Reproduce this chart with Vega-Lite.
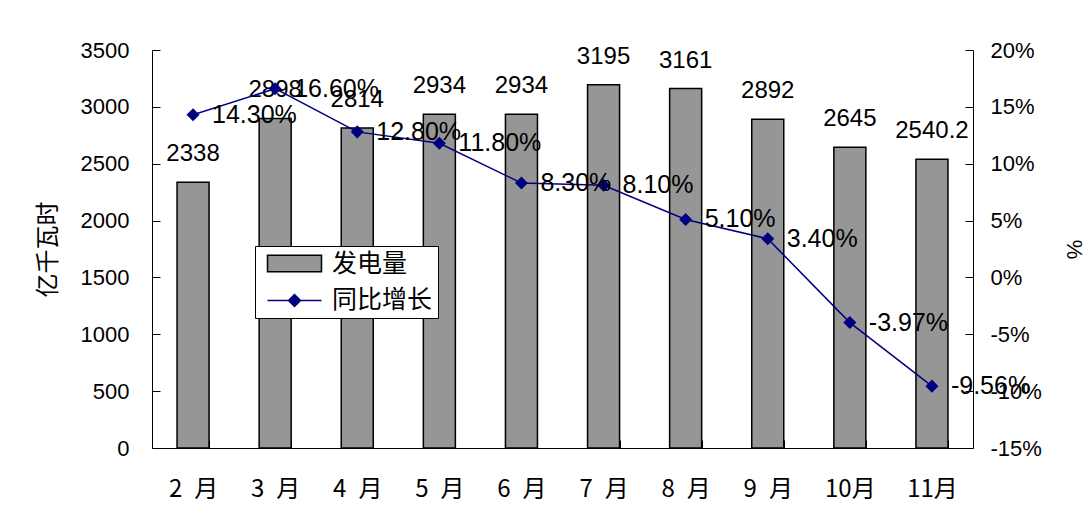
{
  "$schema": "https://vega.github.io/schema/vega-lite/v6.json",
  "width": 821,
  "height": 398,
  "padding": {"left": 36, "top": 39, "right": 2, "bottom": 2},
  "background": "white",
  "config": {"view": {"stroke": null}, "axis": {"grid": false}},
  "data": {
    "values": [
      {"month": "2 月", "power": 2338, "growth": 0.143},
      {"month": "3 月", "power": 2898, "growth": 0.166},
      {"month": "4 月", "power": 2814, "growth": 0.128},
      {"month": "5 月", "power": 2934, "growth": 0.118},
      {"month": "6 月", "power": 2934, "growth": 0.083},
      {"month": "7 月", "power": 3195, "growth": 0.081},
      {"month": "8 月", "power": 3161, "growth": 0.051},
      {"month": "9 月", "power": 2892, "growth": 0.034},
      {"month": "10月", "power": 2645, "growth": -0.0397},
      {"month": "11月", "power": 2540.2, "growth": -0.0956}
    ]
  },
  "transform": [
    {"calculate": "replace(format(datum.growth, '.2%'), '\u2212', '-')", "as": "glabel"}
  ],
  "encoding": {
    "x": {
      "field": "month",
      "type": "nominal",
      "sort": null,
      "scale": {"paddingInner": 0.61, "paddingOuter": 0.305},
      "axis": {
        "title": null,
        "labelAngle": 0,
        "labelExpr": "replace(datum.label, ' ', '\u2002')",
        "labelFont": "Noto Sans CJK SC",
        "labelFontSize": 24,
        "labelColor": "black",
        "labelPadding": 37,
        "tickBand": "extent",
        "tickSize": -8,
        "tickColor": "black",
        "domainColor": "black"
      }
    }
  },
  "layer": [
    {
      "encoding": {
        "y": {
          "field": "power",
          "type": "quantitative",
          "scale": {"domain": [0, 3500]},
          "axis": {
            "orient": "left",
            "values": [0, 500, 1000, 1500, 2000, 2500, 3000, 3500],
            "format": "d",
            "title": "亿千瓦时",
            "titleFont": "Noto Sans CJK SC",
            "titleFontSize": 24,
            "titleFontWeight": "normal",
            "titleColor": "black",
            "titlePadding": 20,
            "labelFont": "Liberation Sans",
            "labelFontSize": 22,
            "labelColor": "black",
            "labelPadding": 31,
            "tickSize": -8,
            "tickColor": "black",
            "domainColor": "black"
          }
        }
      },
      "layer": [
        {
          "mark": {"type": "bar", "stroke": "black", "strokeWidth": 1.5},
          "encoding": {
            "fill": {
              "datum": "发电量",
              "type": "nominal",
              "scale": {"domain": ["发电量", "同比增长"], "range": ["#969696", "transparent"]},
              "legend": {
                "orient": "none",
                "legendX": 103,
                "legendY": 196,
                "title": null,
                "strokeColor": "black",
                "fillColor": "white",
                "padding": 5,
                "labelFont": "Noto Sans CJK SC",
                "labelFontSize": 25,
                "labelColor": "black",
                "symbolSize": 400,
                "symbolOffset": 22,
                "labelOffset": 25,
                "rowPadding": 10,
                "symbolType": "M-2.7,-0.83H2.7V0.83H-2.7Z",
                "symbolStrokeWidth": 1.5
              }
            }
          }
        },
        {
          "mark": {"type": "text", "font": "Liberation Sans", "fontSize": 24, "baseline": "middle", "dy": -28, "color": "black"},
          "encoding": {"text": {"field": "power", "type": "nominal"}}
        }
      ]
    },
    {
      "encoding": {
        "y": {
          "field": "growth",
          "type": "quantitative",
          "scale": {"domain": [-0.15, 0.2]},
          "axis": {
            "orient": "right",
            "values": [-0.15, -0.1, -0.05, 0, 0.05, 0.1, 0.15, 0.2],
            "labelExpr": "replace(format(datum.value, '.0%'), '\u2212', '-')",
            "title": "%",
            "titleFont": "Liberation Sans",
            "titleFontSize": 22,
            "titleFontWeight": "normal",
            "titleColor": "black",
            "titlePadding": 20,
            "labelFont": "Liberation Sans",
            "labelFontSize": 22,
            "labelColor": "black",
            "labelPadding": 25,
            "tickSize": -8,
            "tickColor": "black",
            "domainColor": "black"
          }
        }
      },
      "layer": [
        {
          "mark": {"type": "line", "strokeWidth": 1.5},
          "encoding": {
            "stroke": {
              "datum": "同比增长",
              "type": "nominal",
              "scale": {"domain": ["同比增长"], "range": ["#000080"]},
              "legend": {
                "orient": "none",
                "legendX": 105,
                "legendY": 235,
                "title": null,
                "padding": 3,
                "fillColor": "white",
                "labelFont": "Noto Sans CJK SC",
                "labelFontSize": 25,
                "labelExpr": "''",
                "symbolSize": 400,
                "symbolOffset": 22,
                "labelOffset": 0,
                "symbolType": "M-2.7,0H2.7M0,-0.6L0.6,0L0,0.6L-0.6,0Z",
                "symbolStrokeWidth": 1.5,
                "symbolFillColor": "#000080"
              }
            }
          }
        },
        {
          "mark": {"type": "point", "shape": "diamond", "size": 170, "filled": true, "opacity": 1, "color": "#000080"},
          "encoding": {}
        },
        {
          "mark": {"type": "text", "font": "Liberation Sans", "fontSize": 25, "align": "left", "baseline": "middle", "dx": 19, "color": "black"},
          "encoding": {"text": {"field": "glabel", "type": "nominal"}}
        }
      ]
    }
  ],
  "resolve": {"scale": {"y": "independent"}}
}
